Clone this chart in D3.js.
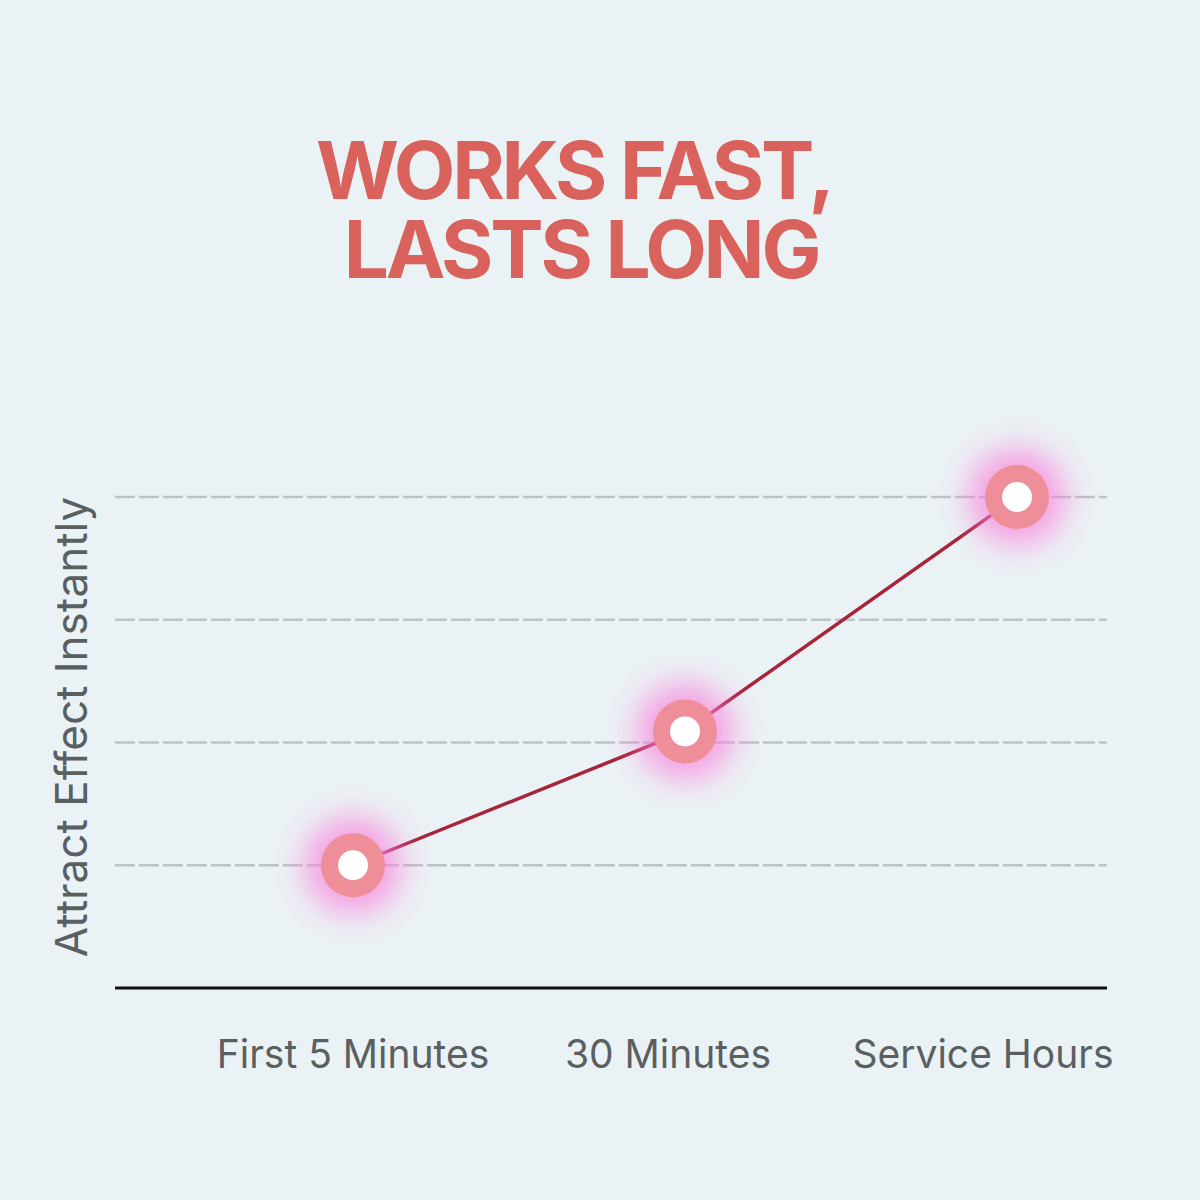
<!DOCTYPE html>
<html><head><meta charset="utf-8">
<script src="https://cdn.jsdelivr.net/npm/d3@7"></script>
<style>
html,body{margin:0;padding:0;background:#EBF2F5;}
svg{display:block;}
</style></head>
<body>
<script>
const titleLines = ["WORKS FAST,", "LASTS LONG"];
const categories = ["First 5 Minutes", "30 Minutes", "Service Hours"];
const values = [1, 2.09, 4];
const gridValues = [1, 2, 3, 4];
const yLabel = "Attract Effect Instantly";

const W = 1200, H = 1200;
const svg = d3.select("body").append("svg").attr("width", W).attr("height", H);
svg.append("rect").attr("width", W).attr("height", H).attr("fill", "#EBF2F5");

const defs = svg.append("defs");
const f = defs.append("filter").attr("id", "glow").attr("x", "-100%").attr("y", "-100%").attr("width", "300%").attr("height", "300%");
f.append("feGaussianBlur").attr("stdDeviation", 16);

// title (one text element, two tspans)
svg.append("text")
  .attr("text-anchor", "middle")
  .attr("font-family", "Inter, 'Liberation Sans', Arial, sans-serif")
  .attr("font-weight", 700)
  .attr("font-size", 80)
  .attr("letter-spacing", -3.2)
  .attr("fill", "#D9625C")
  .selectAll("tspan").data(titleLines).join("tspan")
  .attr("x", (d, i) => i === 0 ? 574 : 581)
  .attr("y", (d, i) => 199 + i * 79)
  .text(d => d);

const x = d3.scalePoint().domain(categories).range([353, 1017]);
const xLab = d3.scalePoint().domain(categories).range([353, 983]);
const y = d3.scaleLinear().domain([0, 4]).range([988, 497]);

// gridlines
svg.append("g").selectAll("line").data(gridValues).join("line")
  .attr("x1", 115).attr("x2", 1107)
  .attr("y1", d => y(d)).attr("y2", d => y(d))
  .attr("stroke", "#BEC3C6").attr("stroke-width", 2.5)
  .attr("stroke-dasharray", "20 4");

// baseline
svg.append("line").attr("x1", 115).attr("x2", 1107).attr("y1", y(0)).attr("y2", y(0))
  .attr("stroke", "#111").attr("stroke-width", 3);

// x labels
svg.append("g").selectAll("text").data(categories).join("text")
  .attr("x", d => xLab(d)).attr("y", 1068)
  .attr("text-anchor", "middle")
  .attr("font-family", "Inter, 'Liberation Sans', Arial, sans-serif")
  .attr("font-size", 39)
  .attr("fill", "#5A5F61")
  .text(d => d);

// y label
svg.append("text")
  .attr("transform", `translate(87,727) rotate(-90)`)
  .attr("text-anchor", "middle")
  .attr("font-family", "Inter, 'Liberation Sans', Arial, sans-serif")
  .attr("font-size", 44)
  .attr("fill", "#5A5F61")
  .text(yLabel);

const pts = categories.map((c, i) => ({c, v: values[i]}));

// line
svg.append("path").datum(pts)
  .attr("d", d3.line().x(d => x(d.c)).y(d => y(d.v)))
  .attr("fill", "none").attr("stroke", "#A8243A").attr("stroke-width", 3.5);

// glow
svg.append("g").selectAll("circle").data(pts).join("circle")
  .attr("cx", d => x(d.c)).attr("cy", d => y(d.v)).attr("r", 48)
  .attr("fill", "#FA7FDC").attr("opacity", 0.75).attr("filter", "url(#glow)");

svg.append("g").selectAll("circle").data(pts).join("circle")
  .attr("cx", d => x(d.c)).attr("cy", d => y(d.v)).attr("r", 32)
  .attr("fill", "#EE8E99");
svg.append("g").selectAll("circle").data(pts).join("circle")
  .attr("cx", d => x(d.c)).attr("cy", d => y(d.v)).attr("r", 15)
  .attr("fill", "#FFFFFF");
</script>
</body></html>
